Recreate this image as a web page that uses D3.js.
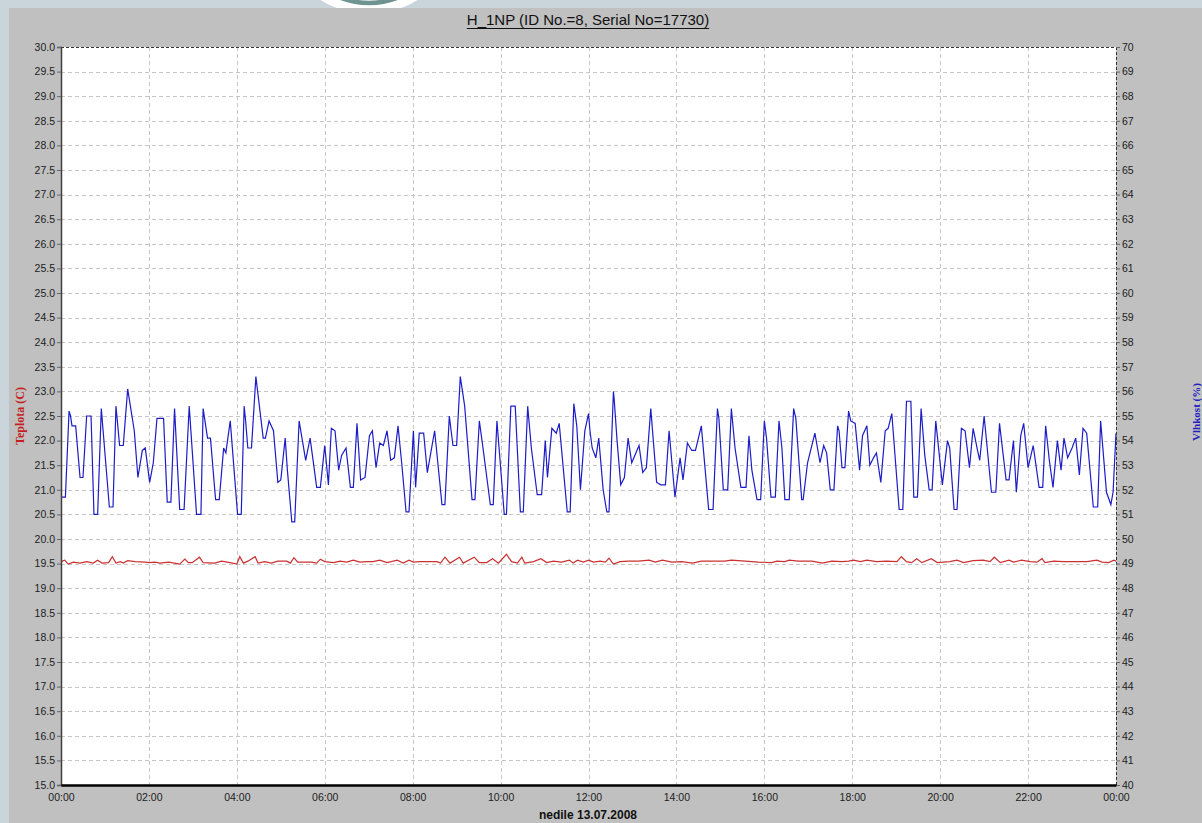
<!DOCTYPE html>
<html>
<head>
<meta charset="utf-8">
<script src="https://cdn.jsdelivr.net/npm/d3@7"></script>
<style>
  html, body { margin: 0; padding: 0; background: #c9d4db; }
  svg { display: block; }
  text { font-family: "Liberation Sans", Arial, sans-serif; }
</style>
</head>
<body>
<svg id="chart" width="1202" height="823"></svg>
<script>
// Logger H_1NP: air humidity (right axis, %) and temperature (left axis, °C), Sunday 13.07.2008
const chartTitle = "H_1NP (ID No.=8, Serial No=17730)";
const xAxisTitle = "nedile 13.07.2008";
const leftAxisTitle = "Teplota (C)";
const rightAxisTitle = "Vlhkost (%)";

const xTickLabels = ["00:00","02:00","04:00","06:00","08:00","10:00","12:00",
                     "14:00","16:00","18:00","20:00","22:00","00:00"];
const tempDomain = [15, 30];
const humDomain = [40, 70];

// humidity readings: minutes after midnight / relative humidity (%)
const humMinutes = [0,6,11,13,15,20,26,30,35,41,45,50,55,66,71,75,80,85,91,100,105,111,115,121,126,131,140,145,150,155,162,168,175,185,191,194,200,204,211,216,222,225,231,241,246,250,252,255,260,266,276,279,284,290,296,300,306,309,315,319,325,334,340,349,354,
  360,365,369,374,379,383,389,395,399,404,409,415,421,425,430,435,440,445,450,455,460,465,471,475,481,484,489,495,500,510,520,524,530,535,540,545,551,561,565,571,576,586,590,595,599,605,608,614,620,627,631,637,642,650,656,661,664,670,676,680,691,695,700,704,709,715,
  720,722,725,730,734,740,745,748,754,755,759,764,769,774,779,789,794,799,805,813,819,825,830,838,845,849,855,861,866,874,884,890,896,898,904,910,915,920,928,935,939,943,950,955,960,963,969,975,980,984,988,994,1000,1003,1011,1013,1019,1029,1036,1041,1045,1050,1055,1060,1062,1066,1070,1075,1078,
  1084,1090,1094,1100,1104,1109,1113,1119,1125,1129,1134,1144,1149,1154,1160,1164,1169,1174,1179,1185,1189,1194,1203,1210,1213,1219,1223,1229,1234,1240,1245,1251,1254,1260,1270,1276,1281,1290,1294,1300,1304,1310,1314,1320,1327,1335,1340,1344,1349,1354,1360,1365,1369,1374,1380,1385,1390,1395,1400,1409,1415,1419,1427,1433,1436,1440];
const humValues = [51.7,51.7,55.2,55.0,54.6,54.6,52.5,52.5,55.0,55.0,51.0,51.0,55.3,51.3,51.3,55.4,53.8,53.8,56.1,54.4,52.5,53.6,53.7,52.3,53.1,54.9,54.9,51.5,51.5,55.3,51.2,51.2,55.4,51.0,51.0,55.3,54.1,54.1,51.6,51.6,53.7,53.5,54.8,51.0,51.0,55.4,54.8,53.7,53.7,56.6,54.1,54.1,54.8,54.4,52.3,52.4,54.1,52.8,50.7,50.7,54.8,53.2,54.1,52.1,52.1,
  53.8,52.2,54.5,54.4,52.8,53.4,53.7,52.1,52.1,54.7,52.4,52.5,54.2,54.4,52.9,53.9,53.8,54.4,53.2,53.3,54.6,53.1,51.1,51.1,54.4,52.1,54.3,54.3,52.7,54.4,51.4,51.4,55.0,53.8,53.8,56.6,55.4,51.6,51.6,54.8,53.7,51.4,51.4,54.8,53.3,51.0,51.0,55.4,55.4,51.1,51.1,55.4,53.7,51.8,51.8,54.0,52.5,54.5,54.3,54.7,51.1,51.1,55.5,54.6,52.0,54.4,
  55.1,54.4,53.7,53.3,54.1,52.0,51.1,51.1,56.0,55.7,54.0,52.2,52.5,54.1,53.1,53.8,52.7,52.9,55.3,52.3,52.2,52.2,54.4,51.7,53.3,52.4,53.9,53.6,53.6,54.6,51.2,51.2,55.3,54.9,52.0,52.0,55.3,53.7,52.1,52.1,54.2,52.8,51.6,51.6,54.8,54.1,51.7,51.7,54.8,53.7,51.6,51.6,55.3,54.9,51.6,51.6,53.1,54.3,53.1,53.8,53.5,52.0,52.0,54.6,54.4,52.9,52.9,55.2,54.8,
  54.7,52.8,54.2,54.6,53.0,53.3,53.5,52.3,54.4,54.5,55.1,51.2,51.2,55.6,55.6,51.7,51.7,55.3,53.4,52.0,52.0,54.8,52.2,54.0,53.7,51.2,51.2,54.5,54.4,52.9,54.5,53.6,53.2,55.0,51.9,51.9,54.7,52.4,52.4,54.0,51.9,54.2,54.7,52.9,53.8,52.1,52.1,54.6,53.2,52.1,54.0,52.8,54.1,53.3,53.7,54.1,52.6,54.5,54.3,51.3,51.3,54.8,51.9,51.4,51.9,54.3];

// temperature readings: minutes after midnight / °C
const tempMinutes = [0,5,10,17,26,35,44,50,56,65,70,75,81,85,91,101,115,121,128,135,147,162,169,174,179,189,194,210,219,231,240,244,249,255,265,269,278,287,296,308,313,318,323,331,342,349,354,
  360,372,381,390,399,408,417,426,435,445,459,467,475,481,490,513,518,524,531,544,549,564,571,581,589,597,608,615,623,629,633,645,655,663,672,683,694,699,705,713,
  720,727,736,743,748,754,763,774,788,803,811,821,834,847,862,874,888,906,915,934,952,970,977,988,994,1006,1025,1039,1052,1066,1075,1082,
  1091,1100,1113,1127,1141,1147,1154,1161,1168,1175,1188,1196,1213,1223,1232,1245,1259,1268,1274,1282,1294,1300,1311,1323,1332,1339,1343,1355,1368,1386,1400,1414,1421,1430,1437,1440];
const tempValues = [19.54,19.57,19.49,19.53,19.51,19.54,19.51,19.57,19.51,19.52,19.64,19.51,19.54,19.51,19.56,19.54,19.53,19.52,19.53,19.51,19.53,19.49,19.59,19.52,19.52,19.63,19.52,19.51,19.55,19.52,19.49,19.64,19.51,19.55,19.64,19.51,19.54,19.51,19.55,19.55,19.51,19.62,19.53,19.53,19.53,19.51,19.59,
  19.54,19.52,19.55,19.53,19.57,19.53,19.54,19.54,19.57,19.52,19.57,19.51,19.57,19.53,19.54,19.54,19.51,19.63,19.51,19.63,19.51,19.63,19.52,19.52,19.60,19.51,19.69,19.54,19.51,19.63,19.51,19.54,19.60,19.52,19.55,19.53,19.57,19.51,19.57,19.53,
  19.57,19.53,19.55,19.53,19.61,19.49,19.54,19.55,19.55,19.57,19.53,19.57,19.53,19.54,19.51,19.55,19.55,19.55,19.57,19.55,19.53,19.52,19.55,19.54,19.57,19.55,19.55,19.51,19.55,19.54,19.55,19.57,
  19.54,19.57,19.54,19.55,19.54,19.64,19.54,19.52,19.60,19.52,19.60,19.52,19.54,19.57,19.52,19.56,19.57,19.54,19.63,19.52,19.57,19.53,19.57,19.54,19.53,19.60,19.52,19.55,19.54,19.54,19.54,19.57,19.53,19.52,19.57,19.55];

const W = 1202, H = 823;
const plot = { left: 61, right: 1116, top: 47, bottom: 785 };

const svg = d3.select("#chart");

// decorative badge peeking above the panel
svg.append("circle").attr("cx", 369).attr("cy", -77).attr("r", 91).attr("fill", "#ffffff");
svg.append("circle").attr("cx", 369).attr("cy", -77).attr("r", 80)
   .attr("fill", "none").attr("stroke", "#6f9390").attr("stroke-width", 4.5);

// grey chart panel
svg.append("rect").attr("x", 9).attr("y", 8).attr("width", W - 9).attr("height", H - 8)
   .attr("fill", "#c0c0c0");

// scales
const x = d3.scaleLinear().domain([0, 1440]).range([plot.left, plot.right]);
const yT = d3.scaleLinear().domain(tempDomain).range([plot.bottom, plot.top]);
const yH = d3.scaleLinear().domain(humDomain).range([plot.bottom, plot.top]);

// plotting area
svg.append("rect").attr("x", plot.left).attr("y", plot.top)
   .attr("width", plot.right - plot.left).attr("height", plot.bottom - plot.top)
   .attr("fill", "#ffffff");

// grid
const tempTicks = d3.range(tempDomain[0], tempDomain[1] + 0.001, 0.5);
const humTicks = d3.range(humDomain[0], humDomain[1] + 0.001, 1);
const hourTicks = d3.range(0, 1441, 120);

const grid = svg.append("g").attr("stroke", "#c6c6c6").attr("stroke-width", 1)
   .attr("stroke-dasharray", "4,3").attr("shape-rendering", "crispEdges");
grid.selectAll(".gh").data(tempTicks.slice(1, -1)).join("line")
   .attr("x1", plot.left).attr("x2", plot.right)
   .attr("y1", d => Math.round(yT(d)) + 0.5).attr("y2", d => Math.round(yT(d)) + 0.5);
grid.selectAll(".gv").data(hourTicks.slice(1, -1)).join("line")
   .attr("y1", plot.top).attr("y2", plot.bottom)
   .attr("x1", d => Math.round(x(d)) + 0.5).attr("x2", d => Math.round(x(d)) + 0.5);

// series
const humLine = d3.line().x((d, i) => x(humMinutes[i])).y(d => yH(d));
const tempLine = d3.line().x((d, i) => x(tempMinutes[i])).y(d => yT(d));

svg.append("path").datum(tempValues).attr("d", tempLine)
   .attr("fill", "none").attr("stroke", "#cc3030").attr("stroke-width", 1.2);
svg.append("path").datum(humValues).attr("d", humLine)
   .attr("fill", "none").attr("stroke", "#1c1cc8").attr("stroke-width", 1.2)
   .attr("stroke-linejoin", "miter");

// frame: dashed top and right, solid left and bottom
svg.append("line").attr("x1", plot.left).attr("x2", plot.right)
   .attr("y1", plot.top + 0.5).attr("y2", plot.top + 0.5)
   .attr("stroke", "#333").attr("stroke-dasharray", "3,2").attr("shape-rendering", "crispEdges");
svg.append("line").attr("x1", plot.right + 0.5).attr("x2", plot.right + 0.5)
   .attr("y1", plot.top).attr("y2", plot.bottom)
   .attr("stroke", "#333").attr("stroke-dasharray", "3,2").attr("shape-rendering", "crispEdges");

// left axis (temperature)
const leftAxis = d3.axisLeft(yT).tickValues(tempTicks).tickSize(4).tickPadding(2)
   .tickFormat(d3.format(".1f"));
const gL = svg.append("g").attr("transform", `translate(${plot.left},0)`).call(leftAxis);
gL.select(".domain").attr("stroke", "#404040").attr("stroke-width", 1.5);
gL.selectAll(".tick line").attr("stroke", "#666");
gL.selectAll("text").attr("font-size", 10.5).attr("fill", "#202020")
   .attr("font-family", "'Liberation Sans', Arial, sans-serif");

// right axis (humidity)
const rightAxis = d3.axisRight(yH).tickValues(humTicks).tickSize(4).tickPadding(2)
   .tickFormat(d3.format("d"));
const gR = svg.append("g").attr("transform", `translate(${plot.right},0)`).call(rightAxis);
gR.select(".domain").remove();
gR.selectAll(".tick line").attr("stroke", "#666");
gR.selectAll("text").attr("font-size", 10.5).attr("fill", "#202020")
   .attr("font-family", "'Liberation Sans', Arial, sans-serif");

// bottom axis (time of day)
const bottomAxis = d3.axisBottom(x).tickValues(hourTicks).tickSize(0).tickPadding(9)
   .tickFormat((d, i) => xTickLabels[i]);
const gB = svg.append("g").attr("transform", `translate(0,${plot.bottom})`).call(bottomAxis);
gB.select(".domain").attr("stroke", "#000").attr("stroke-width", 2.5);
gB.selectAll("text").attr("font-size", 10.5).attr("fill", "#202020")
   .attr("font-family", "'Liberation Sans', Arial, sans-serif");

// titles
const title = svg.append("text").attr("x", 588).attr("y", 25).attr("text-anchor", "middle")
   .attr("font-size", 15).attr("fill", "#111").text(chartTitle);
const tw = title.node().getComputedTextLength();
svg.append("line").attr("x1", 588 - tw / 2).attr("x2", 588 + tw / 2)
   .attr("y1", 28.5).attr("y2", 28.5).attr("stroke", "#111").attr("stroke-width", 1.2);

svg.append("text").attr("x", 588).attr("y", 819).attr("text-anchor", "middle")
   .attr("font-size", 12).attr("font-weight", "bold").attr("fill", "#111").text(xAxisTitle);

svg.append("text").attr("transform", "translate(24,416) rotate(-90)").attr("text-anchor", "middle")
   .attr("font-size", 12).attr("font-weight", "bold").attr("fill", "#c41e1e")
   .style("font-family", "'Liberation Serif', 'Times New Roman', serif").text(leftAxisTitle);

svg.append("text").attr("transform", "translate(1200,412) rotate(-90)").attr("text-anchor", "middle")
   .attr("font-size", 11).attr("font-weight", "bold").attr("fill", "#2020c0")
   .style("font-family", "'Liberation Serif', 'Times New Roman', serif").text(rightAxisTitle);
</script>
</body>
</html>
